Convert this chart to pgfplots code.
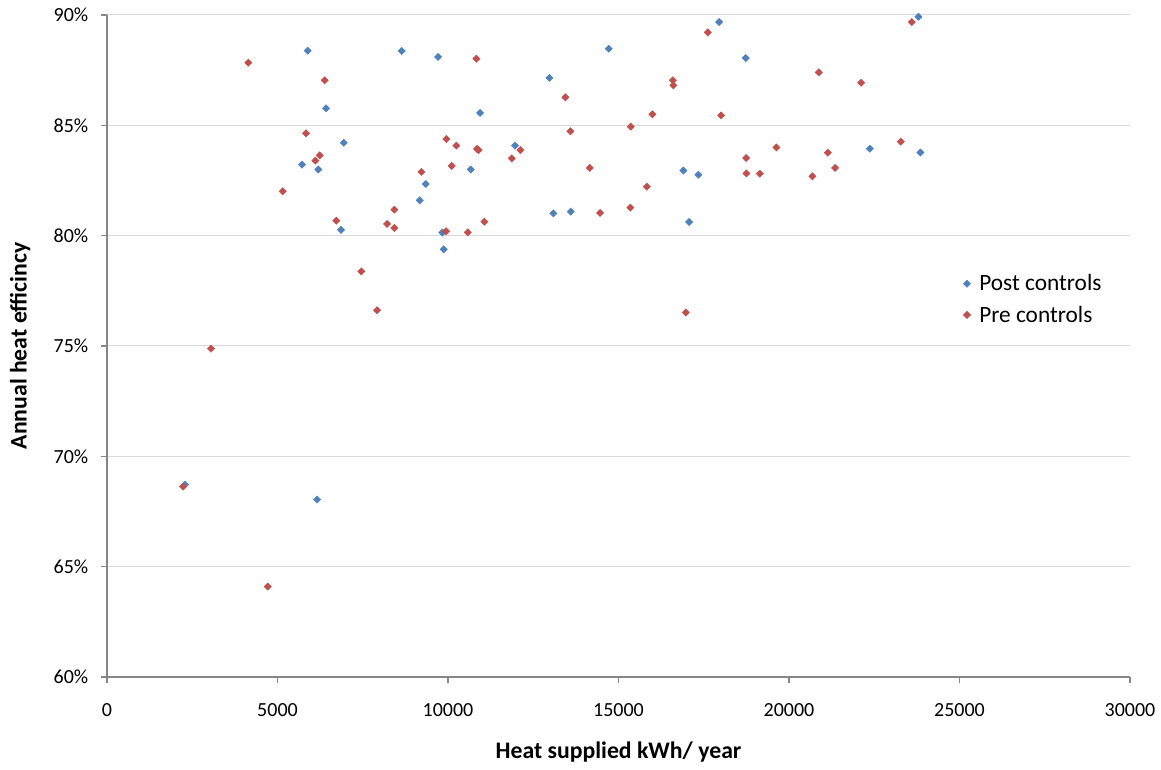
\documentclass[border=0pt]{standalone}
\usepackage{pgfplots}
\pgfplotsset{compat=1.18}
\usepackage{fontspec}
\setmainfont{Carlito}
\definecolor{postblue}{HTML}{4F81BD}
\definecolor{prered}{HTML}{C0504D}
\definecolor{axgray}{HTML}{868686}
\definecolor{gridgray}{HTML}{D9D9D9}
\pgfplotstableread{
x y
5886 88.38
8643 88.37
9709 88.10
6424 85.77
10940 85.56
6942 84.21
5720 83.22
6198 83.00
10667 83.00
9347 82.34
9171 81.60
6863 80.26
9835 80.14
9875 79.38
17950 89.68
14715 88.47
18733 88.05
12973 87.15
11967 84.08
22370 83.94
16903 82.95
17343 82.76
13090 81.01
13600 81.09
17070 80.62
23796 89.92
23854 83.77
2288 68.72
6160 68.04
}\posttable
\pgfplotstableread{
x y
4145 87.84
10832 88.02
6385 87.04
5837 84.64
9952 84.38
10245 84.08
10850 83.93
10900 83.88
6238 83.64
6110 83.40
10110 83.16
9219 82.89
5153 82.01
8427 81.18
6726 80.68
8213 80.53
8427 80.35
9943 80.20
10579 80.15
11066 80.63
17618 89.21
20874 87.40
22115 86.93
16592 87.04
16610 86.81
13442 86.27
15994 85.50
18009 85.45
15360 84.94
13589 84.73
12122 83.88
11870 83.50
19631 84.00
18742 83.52
21138 83.76
21352 83.07
14158 83.07
18751 82.82
19144 82.81
20687 82.69
15830 82.22
15349 81.27
14460 81.03
23602 89.68
23279 84.26
7459 78.38
7919 76.62
3050 74.88
16973 76.52
2229 68.63
4713 64.10
}\pretable
\begin{document}
\begin{tikzpicture}
\path[use as bounding box] (-80.25pt,-69.75pt) rectangle (790.5pt,507.75pt);
\begin{axis}[
  at={(0pt,0pt)}, anchor=south west,
  scale only axis, width=767.25pt, height=496.5pt,
  xmin=0, xmax=30000, ymin=60, ymax=90,
  clip=false,
  scaled x ticks=false, scaled y ticks=false,
  axis lines=left,
  axis line style={-, draw=axgray, line width=1.3pt},
  xtick={0,5000,10000,15000,20000,25000,30000},
  xticklabels={0,5000,10000,15000,20000,25000,30000},
  ytick={60,65,70,75,80,85,90},
  yticklabels={60\%,65\%,70\%,75\%,80\%,85\%,90\%},
  tick align=outside, major tick length=4.5pt,
  tick style={draw=axgray, line width=1pt},
  ymajorgrids, grid style={draw=gridgray, line width=0.75pt},
  ticklabel style={font=\fontsize{15}{18}\selectfont, text=black},
  yticklabel style={anchor=east, xshift=-6pt},
  xticklabel style={anchor=north, yshift=-12pt},
  xlabel={Heat supplied kWh/ year},
  ylabel={Annual heat efficincy},
  label style={font=\bfseries\fontsize{17.8}{21}\selectfont},
  xlabel style={at={(axis description cs:0.5,-0.1133)}, anchor=center},
  ylabel style={at={(axis description cs:-0.085,0.5)}, anchor=center},
  legend style={at={(axis description cs:0.833,0.5705)}, anchor=west, draw=none, fill=none,
    font=\fontsize{17.5}{21}\selectfont, row sep=5.75pt, column sep=4.5pt},
  legend cell align=left,
]
\addplot[only marks, mark=square*, mark size=1.9pt, mark options={rotate=45, fill=postblue, draw=postblue}] table[x=x,y=y] {\posttable};
\addlegendentry{Post controls}
\addplot[only marks, mark=square*, mark size=1.9pt, mark options={rotate=45, fill=prered, draw=prered}] table[x=x,y=y] {\pretable};
\addlegendentry{Pre controls}
\end{axis}
\end{tikzpicture}
\end{document}
